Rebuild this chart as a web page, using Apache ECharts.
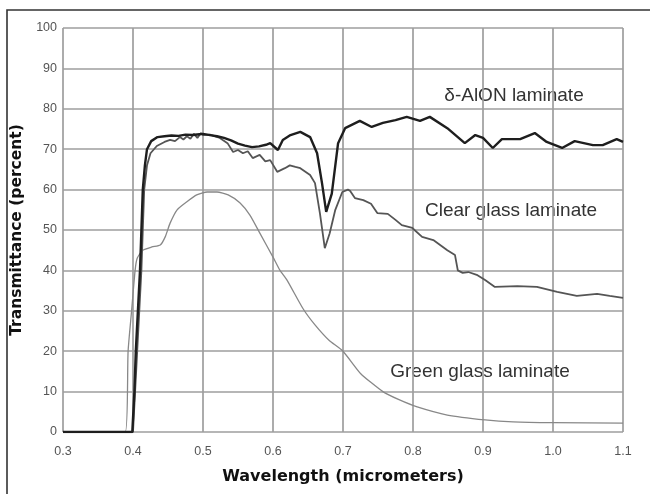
<!DOCTYPE html>
<html><head><meta charset="utf-8">
<script src="https://cdn.jsdelivr.net/npm/echarts@6/dist/echarts.min.js"></script>
<style>html,body{margin:0;padding:0;background:#fff}#c{width:651px;height:494px}</style>
</head><body><div id="c"></div>
<script>
var xTicks = [0.3, 0.4, 0.5, 0.6, 0.7, 0.8, 0.9, 1.0, 1.1];
var seriesNames = ['δ-AlON laminate', 'Clear glass laminate', 'Green glass laminate'];

var alonWl = [0.30, 0.399, 0.402, 0.404, 0.407, 0.410, 0.412, 0.414, 0.417, 0.420, 0.426, 0.435, 0.445, 0.455, 0.465, 0.475, 0.485, 0.495, 0.50, 0.51, 0.52, 0.53, 0.54, 0.55, 0.56, 0.57, 0.58, 0.59, 0.596, 0.607, 0.614, 0.625, 0.639, 0.653, 0.663, 0.670, 0.676, 0.684, 0.693, 0.703, 0.724, 0.741, 0.757, 0.775, 0.791, 0.810, 0.824, 0.849, 0.874, 0.889, 0.900, 0.914, 0.927, 0.953, 0.974, 0.991, 1.013, 1.031, 1.057, 1.071, 1.091, 1.10];
var alonT  = [0, 0, 10, 20, 30, 40, 50, 60, 66, 70, 72, 73, 73.2, 73.4, 73.3, 73.6, 73.5, 73.7, 73.8, 73.5, 73.2, 72.8, 72.2, 71.4, 70.9, 70.5, 70.7, 71.1, 71.5, 69.8, 72.3, 73.5, 74.3, 73, 69, 61.6, 54.5, 59, 71.5, 75.2, 77, 75.5, 76.5, 77.2, 78, 77, 78, 75.2, 71.5, 73.5, 72.8, 70.3, 72.5, 72.5, 74, 71.8, 70.3, 72, 71, 71, 72.5, 71.8];

var clearWl = [0.30, 0.400, 0.403, 0.406, 0.409, 0.412, 0.414, 0.416, 0.420, 0.425, 0.434, 0.445, 0.453, 0.460, 0.467, 0.472, 0.477, 0.482, 0.487, 0.492, 0.497, 0.50, 0.51, 0.524, 0.535, 0.543, 0.550, 0.557, 0.564, 0.571, 0.581, 0.589, 0.596, 0.606, 0.617, 0.624, 0.632, 0.639, 0.653, 0.660, 0.667, 0.674, 0.681, 0.689, 0.699, 0.707, 0.710, 0.717, 0.729, 0.740, 0.749, 0.764, 0.775, 0.784, 0.799, 0.813, 0.829, 0.849, 0.860, 0.864, 0.871, 0.879, 0.891, 0.903, 0.917, 0.949, 0.977, 1.006, 1.034, 1.063, 1.081, 1.10];
var clearT  = [0, 0, 10, 20, 30, 40, 50, 60, 66, 69, 70.8, 71.8, 72.3, 72, 73, 72.4, 73.2, 72.6, 73.8, 72.8, 74, 73.5, 73.6, 72.8, 71.5, 69.3, 69.8, 69, 69.5, 67.8, 68.6, 67.0, 67.3, 64.4, 65.3, 66, 65.6, 65.3, 63.6, 61.6, 54.2, 45.5, 49.2, 55, 59.4, 60, 59.7, 57.9, 57.4, 56.5, 54.2, 54, 52.5, 51.2, 50.5, 48.3, 47.5, 45, 43.8, 40, 39.4, 39.6, 38.9, 37.6, 35.9, 36.1, 35.9, 34.7, 33.7, 34.2, 33.7, 33.2];

var greenWl = [0.30, 0.389, 0.393, 0.398, 0.403, 0.406, 0.414, 0.427, 0.439, 0.446, 0.453, 0.463, 0.477, 0.491, 0.506, 0.520, 0.536, 0.553, 0.567, 0.581, 0.600, 0.610, 0.620, 0.643, 0.660, 0.680, 0.700, 0.725, 0.757, 0.780, 0.806, 0.849, 0.903, 0.943, 1.000, 1.10];
var greenT  = [0, 0, 20, 30, 40, 43, 45, 45.8, 46.3, 48.3, 51.7, 55, 57, 58.7, 59.4, 59.4, 58.7, 56.7, 53.7, 49.3, 43.3, 40, 37.6, 30.5, 26.5, 22.7, 20, 14.5, 10, 8, 6.2, 4.2, 3, 2.5, 2.3, 2.2];

function zip(a, b) { return a.map(function (v, i) { return [v, b[i]]; }); }

var chart = echarts.init(document.getElementById('c'), null, {renderer: 'canvas'});
chart.setOption({
  backgroundColor: '#fff',
  animation: false,
  grid: {left: 63, right: 28, top: 28, bottom: 62, containLabel: false},
  xAxis: {
    type: 'value', min: 0.3, max: 1.1, interval: 0.1,
    name: 'Wavelength (micrometers)', nameLocation: 'middle', nameGap: 37,
    nameTextStyle: {fontFamily: 'DejaVu Sans', fontWeight: 'bold', fontSize: 16, color: '#111'},
    axisLine: {show: false}, axisTick: {show: false},
    axisLabel: {color: '#555', fontSize: 12.5, fontFamily: 'Liberation Sans', margin: 13,
      formatter: function (v) { return v.toFixed(1); }},
    splitLine: {show: true, lineStyle: {color: '#9e9e9e', width: 1.7}}
  },
  yAxis: {
    type: 'value', min: 0, max: 100, interval: 10,
    name: 'Transmittance (percent)', nameLocation: 'middle', nameGap: 34,
    nameTextStyle: {fontFamily: 'DejaVu Sans', fontWeight: 'bold', fontSize: 15.5, color: '#111'},
    axisLine: {show: false}, axisTick: {show: false},
    axisLabel: {color: '#555', fontSize: 12.5, fontFamily: 'Liberation Sans', margin: 6},
    splitLine: {show: true, lineStyle: {color: '#9e9e9e', width: 1.7}}
  },
  series: [
    {name: seriesNames[2], type: 'line', data: zip(greenWl, greenT), showSymbol: false, smooth: 0.2,
     lineStyle: {color: '#888', width: 1.3}, z: 3},
    {name: seriesNames[1], type: 'line', data: zip(clearWl, clearT), showSymbol: false,
     lineStyle: {color: '#555', width: 1.8}, z: 4},
    {name: seriesNames[0], type: 'line', data: zip(alonWl, alonT), showSymbol: false,
     lineStyle: {color: '#1e1e1e', width: 2.4}, z: 5}
  ],
  graphic: [
    {type: 'polyline', shape: {points: [[7, 494], [7, 10], [650, 10]]}, style: {stroke: '#333', lineWidth: 1.6, fill: null}},
    {type: 'text', x: 514, y: 96, style: {text: seriesNames[0], fontFamily: 'Liberation Sans', fontSize: 19, fill: '#333', align: 'center', verticalAlign: 'middle'}},
    {type: 'text', x: 511, y: 211, style: {text: seriesNames[1], fontFamily: 'Liberation Sans', fontSize: 19, fill: '#333', align: 'center', verticalAlign: 'middle'}},
    {type: 'text', x: 480, y: 372, style: {text: seriesNames[2], fontFamily: 'Liberation Sans', fontSize: 19, fill: '#333', align: 'center', verticalAlign: 'middle'}}
  ]
});
</script></body></html>
